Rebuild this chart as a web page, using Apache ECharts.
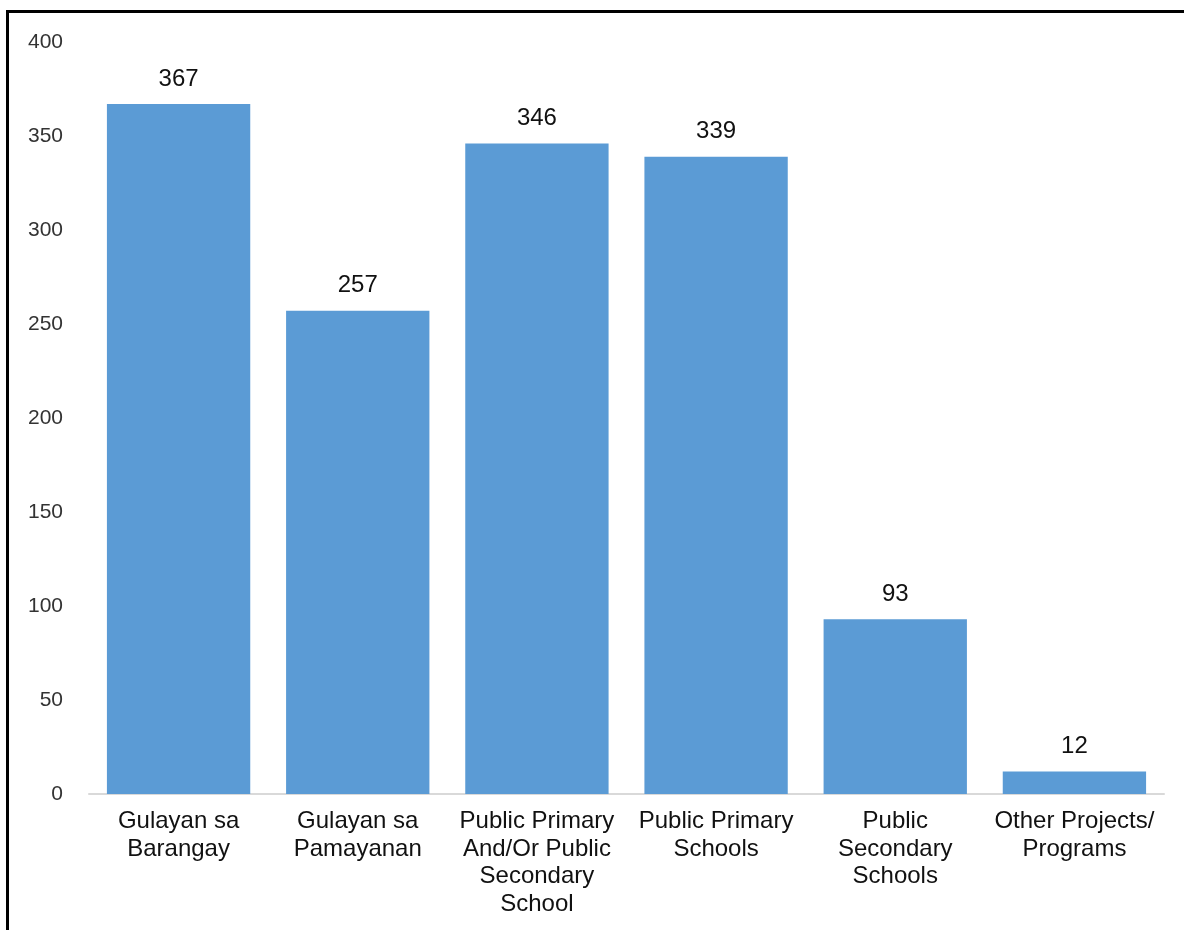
<!DOCTYPE html>
<html>
<head>
    <meta charset="utf-8">
    <title>Bar chart</title>
    <script src="https://cdn.jsdelivr.net/npm/echarts@6.0.0/dist/echarts.min.js"></script>
    <style>
        body {
            margin: 0;
            padding: 0;
            background-color: #fff;
            font-family: 'Liberation Sans', Arial, sans-serif;
        }
        #frame {
            position: absolute;
            left: 6px;
            top: 10px;
            right: 0;
            bottom: 0;
            border-top: 3px solid #000;
            border-left: 3px solid #000;
            pointer-events: none;
            z-index: 10;
        }
        #chart {
            width: 1184px;
            height: 930px;
        }
    </style>
</head>
<body>
    <div id="chart"></div>
    <div id="frame"></div>

    <script>
        // data
        var categories = [
            'Gulayan sa\nBarangay',
            'Gulayan sa\nPamayanan',
            'Public Primary\nAnd/Or Public\nSecondary\nSchool',
            'Public Primary\nSchools',
            'Public\nSecondary\nSchools',
            'Other Projects/\nPrograms'
        ];
        var counts = [367, 257, 346, 339, 93, 12];
        var yTicks = [0, 50, 100, 150, 200, 250, 300, 350, 400];

        var chartDom = document.getElementById('chart');
        var myChart = echarts.init(chartDom);

        var option = {
            animation: false,
            textStyle: { fontFamily: 'Liberation Sans, Arial, sans-serif' },
            grid: { left: 89, right: 20, top: 42, bottom: 136 },
            xAxis: {
                type: 'category',
                data: categories,
                axisLine: { lineStyle: { color: '#d9d9d9', width: 2 } },
                axisTick: { show: false },
                axisLabel: {
                    color: '#111',
                    fontSize: 24,
                    lineHeight: 27.5,
                    margin: 14,
                    interval: 0
                }
            },
            yAxis: {
                type: 'value',
                min: yTicks[0],
                max: yTicks[yTicks.length - 1],
                interval: yTicks[1] - yTicks[0],
                splitLine: { show: false },
                axisLine: { show: false },
                axisTick: { show: false },
                axisLabel: {
                    color: '#333',
                    fontSize: 21,
                    margin: 26
                }
            },
            series: [{
                type: 'bar',
                data: counts,
                barCategoryGap: '20%',
                itemStyle: { color: '#5b9bd5' },
                label: {
                    show: true,
                    position: 'top',
                    distance: 13,
                    color: '#111',
                    fontSize: 24
                }
            }]
        };

        myChart.setOption(option);
    </script>
</body>
</html>
